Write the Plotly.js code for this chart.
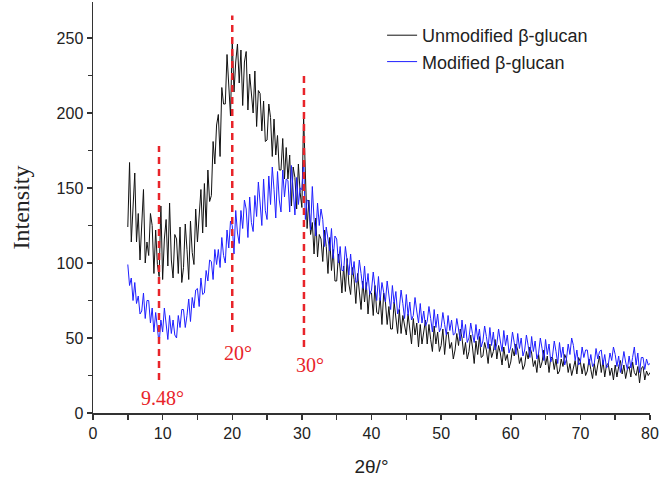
<!DOCTYPE html>
<html>
<head>
<meta charset="utf-8">
<script src="https://cdn.plot.ly/plotly-3.0.1.min.js"></script>
<style>html,body{margin:0;padding:0;background:#fff;}#chart{width:661px;height:481px;}</style>
</head>
<body>
<div id="chart"></div>
<script>
// 2θ sampling of both patterns (degrees)
const ANGLE_START = 5;
const ANGLE_STEP = 0.25;

// Unmodified β-glucan intensity, 5° .. 80° every 0.25°
const unmodified = [
124,167,114,143, 160,114,133,102, 125,149,100,114, 105,133,125,93,
122,99,91,138, 89,116,129,98, 140,102,90,119, 116,93,124,87,
97,126,109,89, 128,107,99,136, 114,136,149,120, 153,124,162,141,
145,181,166,192, 199,171,217,206, 206,239,218,198, 249,214,234,246,
220,242,205,234, 241,202,226,212, 200,228,191,215, 213,188,208,181,
182,206,197,171, 196,172,185,162, 162,183,156,177, 156,172,138,164,
157,136,166,147, 137,198,155,123, 142,119,127,106, 130,104,119,116,
101,122,111,93, 117,95,109,88, 88,106,96,80, 98,81,103,86,
79,97,89,73, 93,78,69,88, 74,87,66,81, 80,65,85,67,
66,77,59,80, 74,59,71,56, 56,74,64,53, 69,53,65,58,
52,66,57,46, 63,52,60,44, 59,46,54,62, 46,59,49,41,
58,46,54,41, 45,56,39,52, 54,43,47,36, 42,53,45,56,
50,39,47,36, 41,52,44,33, 48,39,51,37, 38,47,42,33,
46,37,41,49, 36,45,40,32, 44,35,39,30, 34,43,38,46,
42,33,37,29, 32,41,36,44, 40,31,35,27, 39,30,34,42,
32,38,27,37, 37,29,36,26, 28,36,31,39, 36,27,33,25,
30,35,26,37, 34,26,33,25, 28,36,29,23, 33,25,32,38,
27,35,24,32, 33,25,30,22, 32,24,31,35, 26,32,23,29,
31,24,34,27, 25,31,20,30, 31,22,28,25, 27
];

// Modified β-glucan intensity, 5° .. 80° every 0.25°
const modified = [
99,85,90,75, 87,73,78,66, 68,80,63,75, 75,60,70,54,
67,56,46,62, 54,70,59,49, 65,53,62,52, 50,65,57,69,
69,57,65,76, 61,77,70,82, 83,71,90,79, 80,95,88,102,
101,89,109,99, 109,97,117,105, 100,122,110,128, 125,106,135,120,
113,135,123,142, 136,117,144,127, 121,145,131,154, 140,125,156,135,
129,158,139,164, 149,130,161,142, 134,162,144,156, 155,134,165,145,
132,157,139,150, 149,168,129,142, 141,122,151,129, 118,140,125,136,
129,111,124,116, 108,123,103,118, 116,100,111,95, 95,111,101,92,
106,92,101,87, 88,102,93,83, 98,82,93,79, 82,94,84,75,
91,75,87,79, 74,88,78,69, 85,73,81,66, 70,82,73,63,
79,65,74,62, 65,77,68,60, 73,60,68,58, 61,71,63,54,
69,57,66,54, 57,67,59,52, 65,55,62,52, 53,63,56,48,
62,50,59,47, 50,60,53,47, 59,49,56,44, 48,58,51,43,
57,45,54,42, 46,56,48,41, 55,45,52,40, 44,54,47,39,
53,43,50,38, 42,52,45,37, 51,41,48,36, 40,50,43,35,
49,39,46,34, 38,48,41,33, 47,37,44,32, 36,46,39,50,
45,35,42,32, 34,44,37,42, 42,32,39,31, 33,43,36,41,
42,32,39,30, 32,40,35,44, 39,31,38,27, 33,41,34,29,
38,30,37,44, 32,40,27,37, 37,29,36,32, 33
];

// Reference lines (dashed red) and their labels
const refAngles  = [9.48, 20, 30.3];
const refTops    = [178, 265, 227];
const refBottoms = [22, 54, 44];
const refLabels  = ['9.48°', '20°', '30°'];
const labelAngles = [10.0, 20.8, 31.2];
const labelIntensity = [10, 40, 32];

const seriesNames = ['Unmodified β-glucan', 'Modified β-glucan'];

const traces = [
  {type:'scatter', mode:'lines', name:seriesNames[0], x0:ANGLE_START, dx:ANGLE_STEP, y:unmodified,
   line:{color:'#111111', width:1}},
  {type:'scatter', mode:'lines', name:seriesNames[1], x0:ANGLE_START, dx:ANGLE_STEP, y:modified,
   line:{color:'#1f1fff', width:1}}
];
refAngles.forEach((a,i)=>{
  traces.push({type:'scatter', mode:'lines', x:[a,a], y:[refBottoms[i], refTops[i]], showlegend:false,
    hoverinfo:'skip', line:{color:'#e8242a', width:2.5, dash:'7px,5px'}});
});

const annotations = refLabels.map((t,i)=>({
  x:labelAngles[i], y:labelIntensity[i], xref:'x', yref:'y', text:t, showarrow:false,
  font:{family:'Liberation Serif, Times New Roman, serif', size:20, color:'#e8242a'}
}));

const tickFont = {family:'Liberation Sans, Arial, sans-serif', size:16, color:'#222'};

const layout = {
  width:661, height:481,
  margin:{l:93, r:11, t:2, b:68},
  paper_bgcolor:'#fff', plot_bgcolor:'#fff',
  showlegend:true,
  legend:{x:0.519, y:0.9635, xanchor:'left', yanchor:'top', bgcolor:'rgba(0,0,0,0)',
    font:{family:'Liberation Sans, Arial, sans-serif', size:18, color:'#222'}, tracegroupgap:0},
  xaxis:{range:[0,80], dtick:10, tick0:0, ticks:'outside', ticklen:5, tickwidth:1.5, tickcolor:'#333',
    showline:true, linecolor:'#333', linewidth:1.5, showgrid:false, zeroline:false, tickfont:tickFont,
    minor:{dtick:5, ticks:'outside', ticklen:5, tickwidth:1.5, tickcolor:'#333', showgrid:false},
    title:{text:'2θ/°', font:{family:'Liberation Sans, Arial, sans-serif', size:19, color:'#222'}, standoff:19}},
  yaxis:{range:[0,274], dtick:50, tick0:0, ticks:'outside', ticklen:5, tickwidth:1.5, tickcolor:'#333',
    showline:true, linecolor:'#333', linewidth:1.5, showgrid:false, zeroline:false, tickfont:tickFont,
    minor:{dtick:25, ticks:'outside', ticklen:4, tickwidth:1.5, tickcolor:'#333', showgrid:false},
    title:{text:'Intensity', font:{family:'Liberation Serif, Times New Roman, serif', size:24, color:'#222'}, standoff:20}},
  annotations:annotations
};

Plotly.newPlot('chart', traces, layout, {displayModeBar:false, staticPlot:true});
</script>
</body>
</html>
